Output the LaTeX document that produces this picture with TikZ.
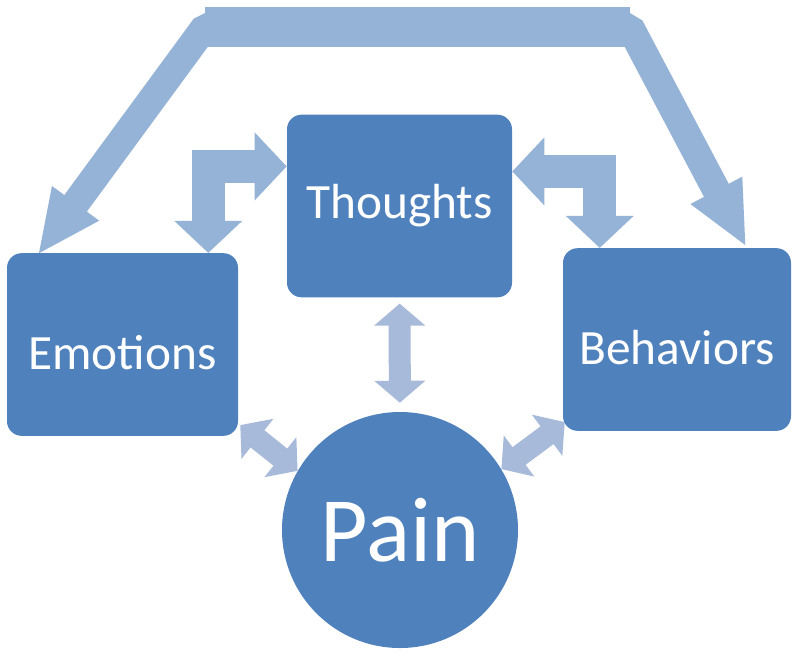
\documentclass[tikz,border=0pt]{standalone}
\usepackage{fontspec}
\setmainfont{Carlito}
\usetikzlibrary{arrows.meta,calc,backgrounds}

\definecolor{boxblue}{HTML}{4F81BD}
\definecolor{arrowblue}{HTML}{95B3D7}
\definecolor{linkblue}{HTML}{A8BADA}

\begin{document}
\begin{tikzpicture}[
    x=0.75pt, y=-0.75pt,
    factor/.style={
      rectangle, rounded corners=11pt, fill=boxblue, text=white,
      font=\fontsize{37}{41}\selectfont, inner sep=0pt,
      minimum height=137pt
    },
    lowtext/.style={text height=37.5pt, text depth=0pt},
    core/.style={
      circle, fill=boxblue, text=white, inner sep=0pt,
      font=\fontsize{69}{74}\selectfont, minimum size=177pt
    },
    ringarrow/.style={
      draw=arrowblue, line width=21pt, line join=bevel,
      {Triangle[length=48pt,width=40pt]}-{Triangle[length=48pt,width=40pt]}
    },
    elbowarrow/.style={
      draw=arrowblue, line width=24.75pt, line join=miter,
      {Triangle[length=24pt,width=49.5pt]}-{Triangle[length=24pt,width=49.5pt]}
    },
    linkarrow/.style={
      draw=linkblue, line width=16.5pt,
      {Triangle[length=16.5pt,width=37.5pt]}-{Triangle[length=16.5pt,width=37.5pt]}
    }
  ]
  \useasboundingbox (0,0) rectangle (800,658);
  \node[factor, minimum width=168.75pt] (tho) at (399.5,206) {Thoughts};
  \node[factor, lowtext, minimum width=173.25pt] (emo) at (122.5,344.5) {Emotions};
  \node[factor, lowtext, minimum width=171pt] (beh) at (677,339.5) {Behaviors};
  \node[core] (pain) at (400,530) {Pain};
  \coordinate (bendL) at (205,27);
  \coordinate (bendR) at (630,27);
  \begin{scope}[on background layer]
    \fill[white] (0,0) rectangle (800,658);
    % outer loop
    \draw[ringarrow] ($(emo.north west)+(31,2)$) -- (bendL) -- (bendR) -- ($(beh.north east)+(-45,-1)$);
    \draw[draw=arrowblue, line width=30pt] (bendL) -- (bendR);
    % bent arrows round thoughts
    \draw[elbowarrow] ($(tho.north west)+(0,52)$) -| ($(emo.north east)+(-30,0)$);
    \draw[elbowarrow] ($(tho.north east)+(0,57)$) -| ($(beh.north west)+(37,0)$);
    % links to pain
    \draw[linkarrow, shorten <=4.5pt, shorten >=6.75pt] (tho) -- (pain);
    \draw[linkarrow] ($(emo.south east)+(2,-11)$) -- (pain.150);
    \draw[linkarrow] (pain.31) -- ($(beh.south west)+(2,-9)$);
  \end{scope}
\end{tikzpicture}
\end{document}
